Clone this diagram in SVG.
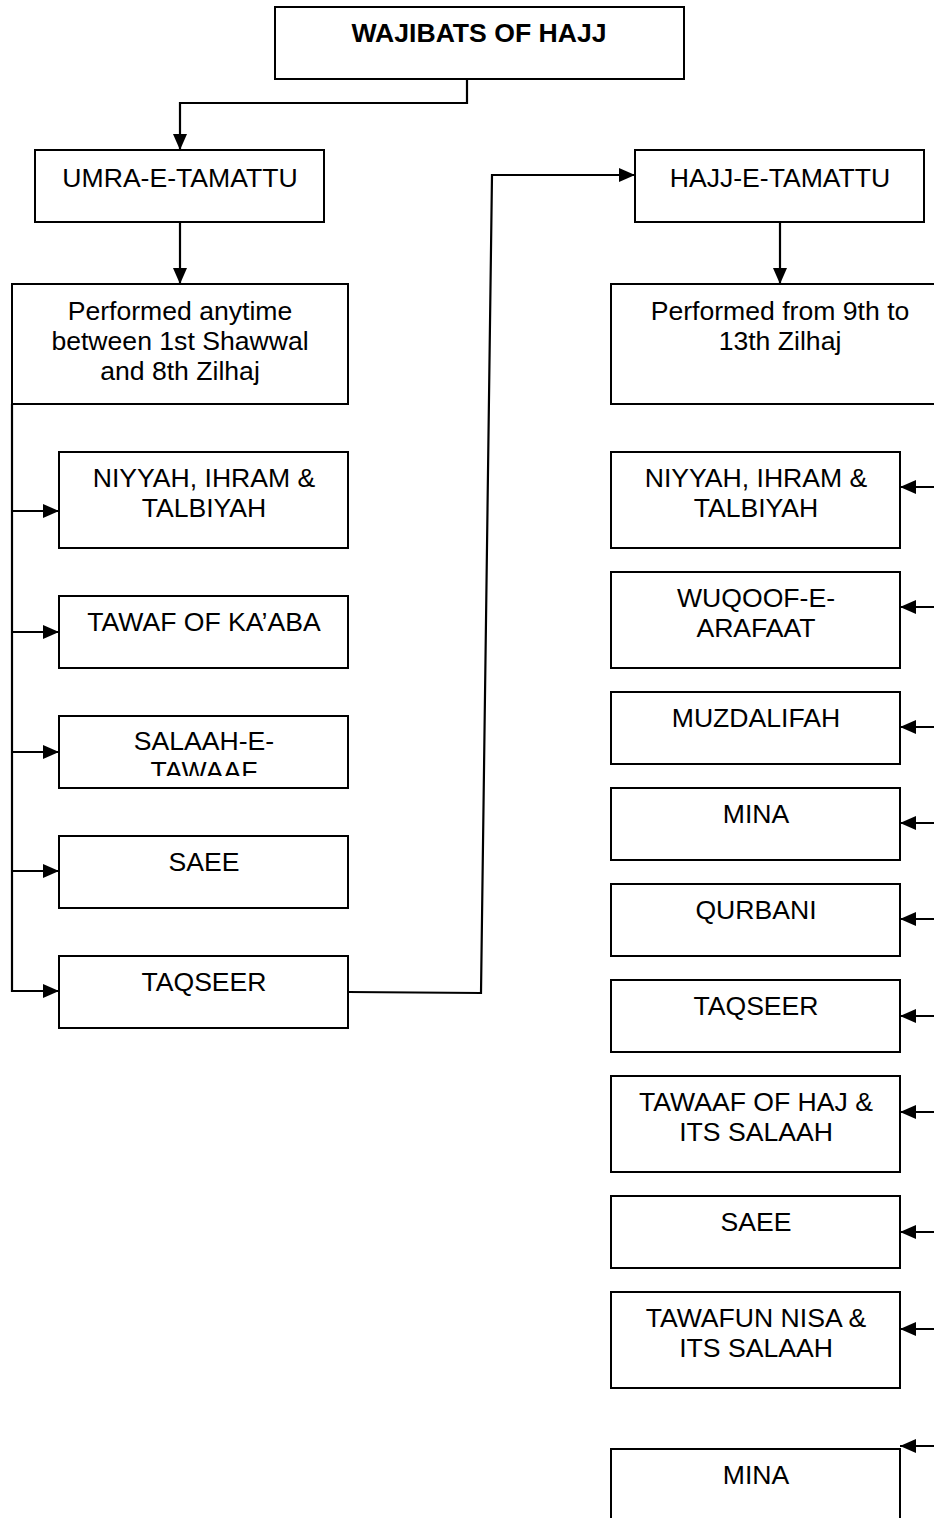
<svg xmlns="http://www.w3.org/2000/svg" width="934" height="1518" viewBox="0 0 934 1518">
<style>
.box{fill:#fff;stroke:#000;stroke-width:2}
.t{font-family:"Liberation Sans",Arial,sans-serif;font-size:26.6px;fill:#000;text-anchor:middle}
.b{font-weight:bold}
.c{fill:none;stroke:#000;stroke-width:2.2}
</style>
<defs>
<marker id="ah" markerUnits="userSpaceOnUse" markerWidth="17" markerHeight="14" refX="16" refY="7" orient="auto">
<path d="M0,0 L16,7 L0,14 z" fill="#000"/>
</marker>
<clipPath id="clipSal"><rect x="59" y="716" width="289" height="60"/></clipPath>
</defs>
<rect width="934" height="1518" fill="#fff"/>

<g id="connectors">
<polyline class="c" points="467,79 467,103 180,103 180,150" marker-end="url(#ah)"/>
<line class="c" x1="180" y1="222" x2="180" y2="284" marker-end="url(#ah)"/>
<line class="c" x1="780" y1="222" x2="780" y2="284" marker-end="url(#ah)"/>
<line class="c" x1="12" y1="404" x2="12" y2="992"/>
<line class="c" x1="11" y1="511" x2="59" y2="511" marker-end="url(#ah)"/>
<line class="c" x1="11" y1="632" x2="59" y2="632" marker-end="url(#ah)"/>
<line class="c" x1="11" y1="752" x2="59" y2="752" marker-end="url(#ah)"/>
<line class="c" x1="11" y1="871" x2="59" y2="871" marker-end="url(#ah)"/>
<line class="c" x1="11" y1="991" x2="59" y2="991" marker-end="url(#ah)"/>
<polyline class="c" points="348,992 481,993 492,175 635,175" marker-end="url(#ah)"/>
<line class="c" x1="940" y1="487" x2="900" y2="487" marker-end="url(#ah)"/>
<line class="c" x1="940" y1="607" x2="900" y2="607" marker-end="url(#ah)"/>
<line class="c" x1="940" y1="727" x2="900" y2="727" marker-end="url(#ah)"/>
<line class="c" x1="940" y1="823" x2="900" y2="823" marker-end="url(#ah)"/>
<line class="c" x1="940" y1="919" x2="900" y2="919" marker-end="url(#ah)"/>
<line class="c" x1="940" y1="1016" x2="900" y2="1016" marker-end="url(#ah)"/>
<line class="c" x1="940" y1="1112" x2="900" y2="1112" marker-end="url(#ah)"/>
<line class="c" x1="940" y1="1232" x2="900" y2="1232" marker-end="url(#ah)"/>
<line class="c" x1="940" y1="1329" x2="900" y2="1329" marker-end="url(#ah)"/>
<line class="c" x1="940" y1="1446" x2="900" y2="1446" marker-end="url(#ah)"/>
</g>

<g id="title"><rect class="box" x="275" y="7" width="409" height="72"/><text class="t b" x="479" y="42">WAJIBATS OF HAJJ</text></g>
<g id="umra"><rect class="box" x="35" y="150" width="289" height="72"/><text class="t" x="180" y="187">UMRA-E-TAMATTU</text></g>
<g id="hajj"><rect class="box" x="635" y="150" width="289" height="72"/><text class="t" x="780" y="187">HAJJ-E-TAMATTU</text></g>
<g id="umra-period"><rect class="box" x="12" y="284" width="336" height="120"/><text class="t" x="180" y="320">Performed anytime</text><text class="t" x="180" y="350">between 1st Shawwal</text><text class="t" x="180" y="380">and 8th Zilhaj</text></g>
<g id="hajj-period"><rect class="box" x="611" y="284" width="340" height="120"/><text class="t" x="780" y="320">Performed from 9th to</text><text class="t" x="780" y="350">13th Zilhaj</text></g>

<g id="u-niyyah"><rect class="box" x="59" y="452" width="289" height="96"/><text class="t" x="204" y="487">NIYYAH, IHRAM &amp;</text><text class="t" x="204" y="517">TALBIYAH</text></g>
<g id="u-tawaf"><rect class="box" x="59" y="596" width="289" height="72"/><text class="t" x="204" y="631">TAWAF OF KA’ABA</text></g>
<g id="u-salaah"><rect class="box" x="59" y="716" width="289" height="72"/><g clip-path="url(#clipSal)"><text class="t" x="204" y="750">SALAAH-E-</text><text class="t" x="204" y="780">TAWAAF</text></g></g>
<g id="u-saee"><rect class="box" x="59" y="836" width="289" height="72"/><text class="t" x="204" y="871">SAEE</text></g>
<g id="u-taqseer"><rect class="box" x="59" y="956" width="289" height="72"/><text class="t" x="204" y="991">TAQSEER</text></g>

<g id="h-niyyah"><rect class="box" x="611" y="452" width="289" height="96"/><text class="t" x="756" y="487">NIYYAH, IHRAM &amp;</text><text class="t" x="756" y="517">TALBIYAH</text></g>
<g id="h-wuqoof"><rect class="box" x="611" y="572" width="289" height="96"/><text class="t" x="756" y="607">WUQOOF-E-</text><text class="t" x="756" y="637">ARAFAAT</text></g>
<g id="h-muzdalifah"><rect class="box" x="611" y="692" width="289" height="72"/><text class="t" x="756" y="727">MUZDALIFAH</text></g>
<g id="h-mina"><rect class="box" x="611" y="788" width="289" height="72"/><text class="t" x="756" y="823">MINA</text></g>
<g id="h-qurbani"><rect class="box" x="611" y="884" width="289" height="72"/><text class="t" x="756" y="919">QURBANI</text></g>
<g id="h-taqseer"><rect class="box" x="611" y="980" width="289" height="72"/><text class="t" x="756" y="1015">TAQSEER</text></g>
<g id="h-tawaaf"><rect class="box" x="611" y="1076" width="289" height="96"/><text class="t" x="756" y="1111">TAWAAF OF HAJ &amp;</text><text class="t" x="756" y="1141">ITS SALAAH</text></g>
<g id="h-saee"><rect class="box" x="611" y="1196" width="289" height="72"/><text class="t" x="756" y="1231">SAEE</text></g>
<g id="h-tawafun"><rect class="box" x="611" y="1292" width="289" height="96"/><text class="t" x="756" y="1327">TAWAFUN NISA &amp;</text><text class="t" x="756" y="1357">ITS SALAAH</text></g>
<g id="h-mina2"><rect class="box" x="611" y="1449" width="289" height="100"/><text class="t" x="756" y="1484">MINA</text></g>
</svg>
